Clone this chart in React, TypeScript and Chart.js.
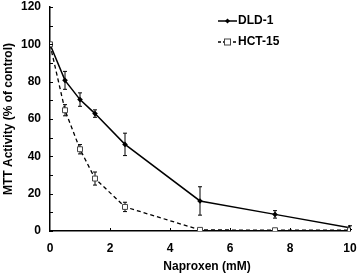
import React, { useEffect, useRef } from "react";
import { Chart, registerables } from "chart.js";

Chart.register(...registerables);

const doses = [0, 0.5, 1, 1.5, 2.5, 5, 7.5, 10];
const dldValues = [100, 80.7, 70.4, 62.9, 46.4, 16.1, 8.9, 1.8];
const dldErrors = [0, 4.8, 3.6, 2, 6, 7.6, 2, 1];
const hctValues = [100, 64.7, 43.8, 28.1, 12.9, 0.6, 0.4, 0.4];
const hctErrors = [0, 3, 2.5, 3.5, 2.5, 0, 0, 0];
const seriesNames = ["DLD-1", "HCT-15"];
const xTitle = "Naproxen (mM)";
const yTitle = "MTT Activity (% of control)";

const FONT = "'Liberation Sans', Arial, sans-serif";

const errorBarPlugin = {
  id: "errorBars",
  beforeDatasetsDraw(chart: any) {
    const ctx = chart.ctx;
    const xs = chart.scales.x;
    const ys = chart.scales.y;
    const sets = [
      { v: dldValues, e: dldErrors },
      { v: hctValues, e: hctErrors },
    ];
    ctx.save();
    ctx.strokeStyle = "#000";
    ctx.lineWidth = 1;
    ctx.setLineDash([]);
    sets.forEach((s) => {
      doses.forEach((d, i) => {
        if (!s.e[i]) return;
        const px = xs.getPixelForValue(d);
        const top = ys.getPixelForValue(s.v[i] + s.e[i]);
        const bot = ys.getPixelForValue(s.v[i] - s.e[i]);
        ctx.beginPath();
        ctx.moveTo(px, top);
        ctx.lineTo(px, bot);
        ctx.moveTo(px - 2, top);
        ctx.lineTo(px + 2, top);
        ctx.moveTo(px - 2, bot);
        ctx.lineTo(px + 2, bot);
        ctx.stroke();
      });
    });
    ctx.restore();
  },
};

const decorPlugin = {
  id: "decor",
  afterDraw(chart: any) {
    const ctx = chart.ctx;
    const xs = chart.scales.x;
    const ys = chart.scales.y;
    const area = chart.chartArea;
    ctx.save();
    ctx.strokeStyle = "#000";
    ctx.lineWidth = 1;
    // inward tick marks
    ys.ticks.forEach((t: any) => {
      const py = Math.round(ys.getPixelForValue(t.value)) + 0.5;
      ctx.beginPath();
      ctx.moveTo(area.left, py);
      ctx.lineTo(area.left + 3, py);
      ctx.stroke();
    });
    xs.ticks.forEach((t: any) => {
      if (t.value === 0) return;
      const px = Math.round(xs.getPixelForValue(t.value)) + 0.5;
      ctx.beginPath();
      ctx.moveTo(px, area.bottom);
      ctx.lineTo(px, area.bottom - 3);
      ctx.stroke();
    });
    // x title
    ctx.fillStyle = "#000";
    ctx.font = "bold 12px " + FONT;
    ctx.textAlign = "center";
    ctx.textBaseline = "middle";
    ctx.fillText(xTitle, (area.left + area.right) / 2 + 7, 266.5);
    // legend
    const lx0 = 218;
    const lx1 = 237;
    const rows = [21, 42];
    ctx.lineWidth = 1.5;
    ctx.beginPath();
    ctx.moveTo(lx0, rows[0]);
    ctx.lineTo(lx1, rows[0]);
    ctx.stroke();
    ctx.beginPath();
    const mx = (lx0 + lx1) / 2;
    ctx.moveTo(mx, rows[0] - 2.5);
    ctx.lineTo(mx + 2.5, rows[0]);
    ctx.lineTo(mx, rows[0] + 2.5);
    ctx.lineTo(mx - 2.5, rows[0]);
    ctx.closePath();
    ctx.fill();
    ctx.lineWidth = 1.3;
    ctx.setLineDash([3, 2]);
    ctx.beginPath();
    ctx.moveTo(lx0, rows[1]);
    ctx.lineTo(lx1, rows[1]);
    ctx.stroke();
    ctx.setLineDash([]);
    ctx.lineWidth = 1;
    ctx.fillStyle = "#fff";
    ctx.fillRect(mx - 3, rows[1] - 3, 6, 6);
    ctx.strokeStyle = "#444";
    ctx.strokeRect(mx - 3, rows[1] - 3, 6, 6);
    ctx.fillStyle = "#000";
    ctx.textAlign = "left";
    ctx.fillText(seriesNames[0], lx1 + 1, rows[0]);
    ctx.fillText(seriesNames[1], lx1 + 1, rows[1]);
    ctx.restore();
  },
};

export default function App() {
  const ref = useRef<HTMLCanvasElement | null>(null);
  useEffect(() => {
    if (!ref.current) return;
    const chart = new Chart(ref.current, {
      type: "line",
      data: {
        datasets: [
          {
            label: seriesNames[0],
            data: doses.map((d, i) => ({ x: d, y: dldValues[i] })),
            borderColor: "#000",
            backgroundColor: "#000",
            borderWidth: 1.5,
            pointStyle: "rectRot",
            pointRadius: 2.8,
            pointBorderWidth: 0,
            pointBackgroundColor: "#000",
            tension: 0,
            order: 1,
          },
          {
            label: seriesNames[1],
            data: doses.map((d, i) => ({ x: d, y: hctValues[i] })),
            borderColor: "#000",
            borderWidth: 1.3,
            borderDash: [4, 3],
            pointStyle: "rect",
            pointRadius: 3.5,
            pointBorderWidth: 1,
            pointBorderColor: "#444",
            pointBackgroundColor: "#fff",
            tension: 0,
            order: 0,
          },
        ],
      },
      options: {
        animation: false,
        responsive: true,
        maintainAspectRatio: false,
        layout: { padding: { top: 7, right: 9, left: 0, bottom: 0 } },
        plugins: { legend: { display: false }, tooltip: { enabled: false } },
        scales: {
          x: {
            type: "linear",
            min: 0,
            max: 10,
            grid: { display: false, drawTicks: false },
            border: { display: true, color: "#000", width: 1.5 },
            ticks: {
              stepSize: 2,
              color: "#000",
              padding: 10.5,
              font: { family: FONT, size: 12, weight: "bold" },
            },
            title: { display: false },
            afterFit: (s: any) => {
              s.height = 45;
              s.paddingLeft = 0;
              s.paddingRight = 0;
            },
          },
          y: {
            type: "linear",
            min: 0,
            max: 120,
            grid: { display: false, drawTicks: false },
            border: { display: true, color: "#000", width: 1.5 },
            ticks: {
              stepSize: 10,
              color: "#000",
              padding: 9,
              font: { family: FONT, size: 12, weight: "bold" },
              callback: (v: any) => (Number(v) % 20 === 0 ? String(v) : ""),
            },
            title: {
              display: true,
              text: yTitle,
              color: "#000",
              padding: { top: 1.5, bottom: 0 },
              font: { family: FONT, size: 12, weight: "bold" },
            },
            afterFit: (s: any) => {
              s.width = 50;
              s.paddingTop = 0;
              s.paddingBottom = 0;
            },
          },
        },
      },
      plugins: [errorBarPlugin, decorPlugin],
    });
    return () => chart.destroy();
  }, []);
  return (
    <div style={{ position: "fixed", left: 0, top: 0, width: 359, height: 276, background: "#fff" }}>
      <canvas ref={ref} />
    </div>
  );
}
